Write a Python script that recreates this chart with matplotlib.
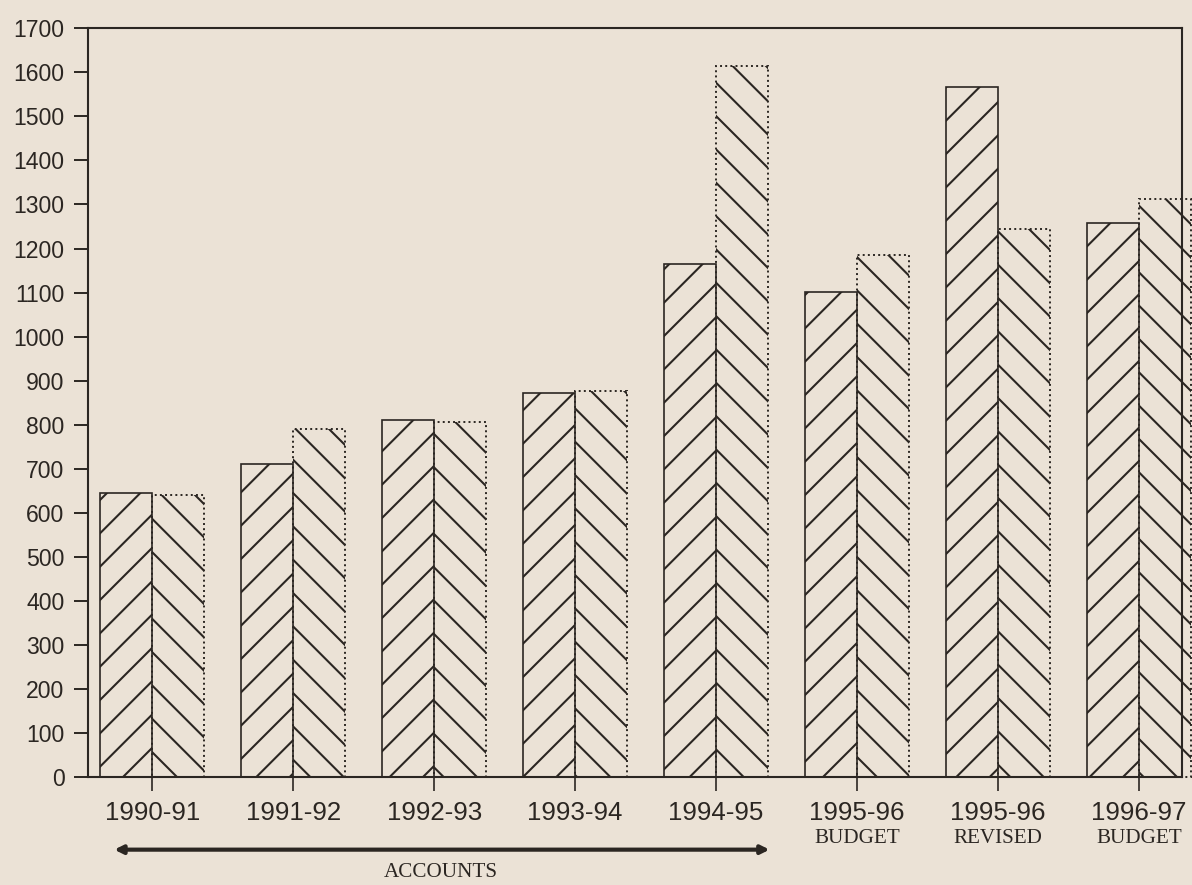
import matplotlib.pyplot as plt
import matplotlib.transforms as mtransforms
import numpy as np

# Values
years = ['1990-91', '1991-92', '1992-93', '1993-94', '1994-95',
         '1995-96', '1995-96', '1996-97']
sublabels = ['', '', '', '', '', 'BUDGET', 'REVISED', 'BUDGET']
first = [645, 710, 810, 873, 1166, 1102, 1567, 1257]
second = [640, 791, 807, 876, 1615, 1186, 1245, 1313]
yticks = list(range(0, 1800, 100))

paper = '#ebe2d6'
ink = '#2b2622'

# high dpi so the hatch spacing comes out wide like the print
plt.rcParams['hatch.linewidth'] = 0.75
plt.rcParams['hatch.color'] = ink

fig = plt.figure(figsize=(5.96, 4.425), dpi=200, facecolor=paper)
ax = fig.add_axes([0.074, 0.122, 0.918, 0.846], facecolor=paper)

x = np.arange(len(years))
w = 0.37
ax.bar(x - w / 2, first, w, facecolor='none', edgecolor=ink,
       linewidth=0.6, hatch='//', clip_on=False)
ax.bar(x + w / 2, second, w, facecolor='none', edgecolor=ink,
       linewidth=0.7, linestyle=':', hatch='\\\\', clip_on=False)

ax.set_xlim(-0.455, 7.31)
ax.set_ylim(0, 1700)

for side in ['left', 'right', 'top', 'bottom']:
    ax.spines[side].set_color(ink)
    ax.spines[side].set_linewidth(0.75)

ax.set_yticks(yticks)
ax.set_yticklabels([str(v) for v in yticks], family='Liberation Sans',
                   fontsize=8.3, color=ink)
ax.tick_params(axis='y', length=5, width=0.7, color=ink, pad=3.5)

ax.set_xticks(x)
ax.set_xticklabels(years, family='Liberation Sans', fontsize=9.3, color=ink)
ax.tick_params(axis='x', length=5.2, width=0.6, color=ink, pad=3.5)

trans = mtransforms.blended_transform_factory(ax.transData, ax.transAxes)
for i, s in enumerate(sublabels):
    if s:
        ax.text(i, -0.082, s, transform=trans, ha='center', va='center',
                family='Liberation Serif', fontsize=7.6, color=ink)

# ACCOUNTS arrow under the first five years
ax.annotate('', xy=(-0.27, -0.097), xytext=(4.38, -0.097),
            xycoords=trans, textcoords=trans,
            arrowprops=dict(arrowstyle='<|-|>', color=ink, lw=1.5,
                            mutation_scale=6, shrinkA=0, shrinkB=0))
ax.text(2.05, -0.128, 'ACCOUNTS', transform=trans, ha='center', va='center',
        family='Liberation Serif', fontsize=7.6, color=ink)

fig.savefig('out.png', dpi=200, facecolor=paper)
